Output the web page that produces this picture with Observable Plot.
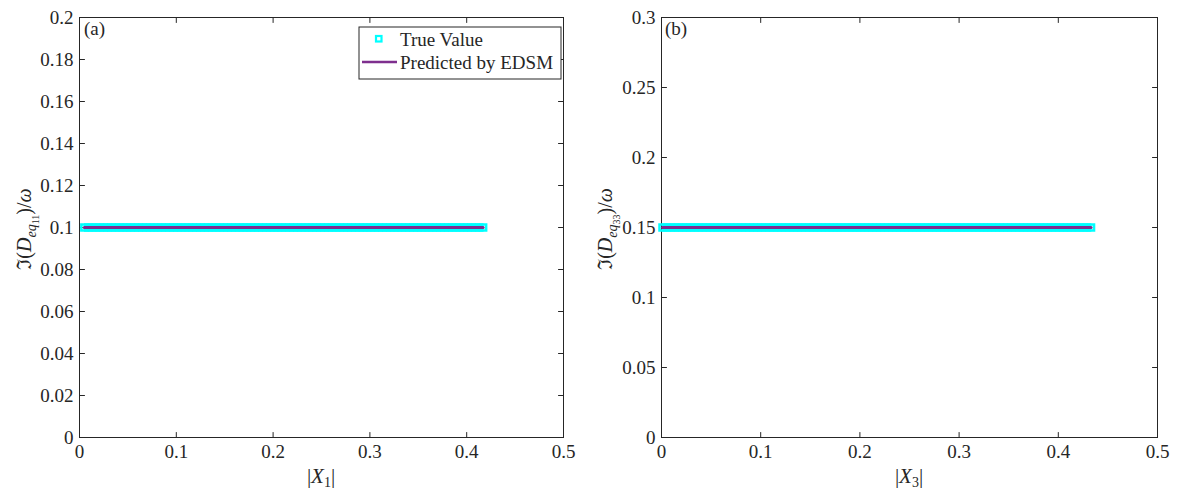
<!DOCTYPE html>
<html>
<head>
<meta charset="utf-8">
<script src="https://cdn.jsdelivr.net/npm/d3@7"></script>
<script src="https://cdn.jsdelivr.net/npm/@observablehq/plot@0.6"></script>
<style>
  html, body { margin: 0; padding: 0; background: #fff; }
  #wrap { display: flex; width: 1179px; height: 494px; overflow: hidden; }
  #wrap svg { display: block; }
  #wrap svg text, #wrap svg tspan { font-family: "Liberation Serif", "Times New Roman", serif !important; }
</style>
</head>
<body>
<div id="wrap"></div>
<script>
// Tick values
const xTicks = [0, 0.1, 0.2, 0.3, 0.4, 0.5];
const yTicksA = [0, 0.02, 0.04, 0.06, 0.08, 0.1, 0.12, 0.14, 0.16, 0.18, 0.2];
const yTicksB = [0, 0.05, 0.1, 0.15, 0.2, 0.25, 0.3];

// Panel (a): amplitude |X1| samples and the imaginary part of D_eq11 / omega
const amplitudeA = [
  0.005, 0.009, 0.013, 0.017, 0.021, 0.025, 0.029, 0.033, 0.037, 0.041,
  0.045, 0.049, 0.053, 0.057, 0.061, 0.065, 0.069, 0.073, 0.077, 0.081,
  0.085, 0.089, 0.093, 0.097, 0.101, 0.105, 0.109, 0.113, 0.117, 0.121,
  0.125, 0.129, 0.133, 0.137, 0.141, 0.145, 0.149, 0.153, 0.157, 0.161,
  0.165, 0.169, 0.173, 0.177, 0.181, 0.185, 0.189, 0.193, 0.197, 0.201,
  0.205, 0.209, 0.213, 0.217, 0.221, 0.225, 0.229, 0.233, 0.237, 0.241,
  0.245, 0.249, 0.253, 0.257, 0.261, 0.265, 0.269, 0.273, 0.277, 0.281,
  0.285, 0.289, 0.293, 0.297, 0.301, 0.305, 0.309, 0.313, 0.317, 0.321,
  0.325, 0.329, 0.333, 0.337, 0.341, 0.345, 0.349, 0.353, 0.357, 0.361,
  0.365, 0.369, 0.373, 0.377, 0.381, 0.385, 0.389, 0.393, 0.397, 0.401,
  0.405, 0.409, 0.413, 0.417
];
const trueValueA = 0.1;
const predictedA = 0.1;

// Panel (b): amplitude |X3| samples and the imaginary part of D_eq33 / omega
const amplitudeB = [
  0.001, 0.005, 0.009, 0.013, 0.017, 0.021, 0.025, 0.029, 0.033, 0.037,
  0.041, 0.045, 0.049, 0.053, 0.057, 0.061, 0.065, 0.069, 0.073, 0.077,
  0.081, 0.085, 0.089, 0.093, 0.097, 0.101, 0.105, 0.109, 0.113, 0.117,
  0.121, 0.125, 0.129, 0.133, 0.137, 0.141, 0.145, 0.149, 0.153, 0.157,
  0.161, 0.165, 0.169, 0.173, 0.177, 0.181, 0.185, 0.189, 0.193, 0.197,
  0.201, 0.205, 0.209, 0.213, 0.217, 0.221, 0.225, 0.229, 0.233, 0.237,
  0.241, 0.245, 0.249, 0.253, 0.257, 0.261, 0.265, 0.269, 0.273, 0.277,
  0.281, 0.285, 0.289, 0.293, 0.297, 0.301, 0.305, 0.309, 0.313, 0.317,
  0.321, 0.325, 0.329, 0.333, 0.337, 0.341, 0.345, 0.349, 0.353, 0.357,
  0.361, 0.365, 0.369, 0.373, 0.377, 0.381, 0.385, 0.389, 0.393, 0.397,
  0.401, 0.405, 0.409, 0.413, 0.417, 0.421, 0.425, 0.429, 0.433
];
const trueValueB = 0.15;
const predictedB = 0.15;

const legendLabels = ["True Value", "Predicted by EDSM"];

const axisColor = "#262626";
const trueColor = "#00FFFF";
const predColor = "#7E2F8E";
const serif = '"Liberation Serif", "Times New Roman", serif';
const fmt = d3.format("~g");

// Inward-pointing tick stroke used for all four sides of the box
const tickShape = {
  draw(context, length) {
    context.moveTo(0, 0);
    context.lineTo(0, -length);
  }
};

function panel({width, marginLeft, marginRight, amplitude, trueValue, predicted, yDomain, yTicks}) {
  const trueRows = amplitude.map(x => ({x, y: trueValue}));
  const predRows = amplitude.map(x => ({x, y: predicted}));
  const tickOpts = {length: 5, anchor: "start", shape: tickShape, stroke: axisColor, strokeWidth: 1};
  return Plot.plot({
    width,
    height: 494,
    marginLeft,
    marginRight,
    marginTop: 17,
    marginBottom: 57,
    style: {fontFamily: serif, fontSize: "19px", color: axisColor, background: "#fff", overflow: "visible"},
    x: {domain: [0, 0.5]},
    y: {domain: yDomain},
    marks: [
      Plot.frame({stroke: axisColor, strokeWidth: 1}),
      Plot.axisX(xTicks, {tickSize: 0, tickPadding: 7, tickFormat: fmt, label: null, fill: axisColor, fontFamily: serif}),
      Plot.axisY(yTicks, {tickSize: 0, tickPadding: 6, tickFormat: fmt, label: null, fill: axisColor, fontFamily: serif}),
      Plot.vector(xTicks, {x: d => d, frameAnchor: "bottom", rotate: 0, ...tickOpts}),
      Plot.vector(xTicks, {x: d => d, frameAnchor: "top", rotate: 180, ...tickOpts}),
      Plot.vector(yTicks, {y: d => d, frameAnchor: "left", rotate: 90, ...tickOpts}),
      Plot.vector(yTicks, {y: d => d, frameAnchor: "right", rotate: -90, ...tickOpts}),
      Plot.dot(trueRows, {x: "x", y: "y", symbol: "square", r: 3.4, stroke: trueColor, strokeWidth: 2.5, fill: "none"}),
      Plot.line(predRows, {x: "x", y: "y", stroke: predColor, strokeWidth: 3})
    ]
  });
}

function addText(svg, {x, y, size = 19, rotate = 0, anchor = "middle", parts}) {
  const t = d3.select(svg).append("text")
    .attr("transform", `translate(${x},${y}) rotate(${rotate})`)
    .attr("text-anchor", anchor)
    .attr("font-family", serif)
    .attr("font-size", size)
    .attr("fill", axisColor);
  for (const p of parts) {
    const s = t.append("tspan").text(p.text);
    if (p.italic) s.attr("font-style", "italic");
    if (p.size) s.attr("font-size", p.size);
    if (p.dy) s.attr("dy", p.dy);
  }
  return t;
}

const wrap = document.getElementById("wrap");

// (a)
const svgA = panel({
  width: 590, marginLeft: 79, marginRight: 27,
  amplitude: amplitudeA, trueValue: trueValueA, predicted: predictedA,
  yDomain: [0, 0.2], yTicks: yTicksA
});
wrap.appendChild(svgA);

// (b)
const svgB = panel({
  width: 589, marginLeft: 71, marginRight: 22,
  amplitude: amplitudeB, trueValue: trueValueB, predicted: predictedB,
  yDomain: [0, 0.3], yTicks: yTicksB
});
wrap.appendChild(svgB);

// panel tags
addText(svgA, {x: 84, y: 35, anchor: "start", parts: [{text: "(a)"}]});
addText(svgB, {x: 75, y: 35, anchor: "start", parts: [{text: "(b)"}]});

// x-axis titles
addText(svgA, {x: 321, y: 483, size: 21, parts: [
  {text: "|"}, {text: "X", italic: true}, {text: "1", size: 14, dy: 4}, {text: "|", dy: -4}
]});
addText(svgB, {x: 319, y: 483, size: 21, parts: [
  {text: "|"}, {text: "X", italic: true}, {text: "3", size: 14, dy: 4}, {text: "|", dy: -4}
]});

// y-axis titles
function yTitle(svg, x, sub) {
  addText(svg, {x, y: 229, size: 20, rotate: -90, parts: [
    {text: "\u2111("}, {text: "D", italic: true},
    {text: "eq", italic: true, size: 14, dy: 5},
    {text: sub, size: 10, dy: 3},
    {text: ")/", dy: -8}, {text: "\u03C9", italic: true}
  ]});
}
yTitle(svgA, 31, "11");
yTitle(svgB, 22, "33");

// legend box in panel (a)
const lg = d3.select(svgA).append("g").attr("transform", "translate(359,27)")
  .attr("text-anchor", "start");
lg.append("rect").attr("width", 202).attr("height", 52)
  .attr("fill", "#fff").attr("stroke", axisColor).attr("stroke-width", 1);
lg.append("rect").attr("x", 17).attr("y", 9).attr("width", 5.5).attr("height", 5.5)
  .attr("fill", "none").attr("stroke", trueColor).attr("stroke-width", 2.2);
lg.append("line").attr("x1", 3).attr("x2", 38).attr("y1", 35).attr("y2", 35)
  .attr("stroke", predColor).attr("stroke-width", 2.5);
lg.append("text").attr("x", 41).attr("y", 19).attr("text-anchor", "start")
  .attr("font-family", serif).attr("font-size", 19)
  .attr("fill", axisColor).text(legendLabels[0]);
lg.append("text").attr("x", 41).attr("y", 42).attr("text-anchor", "start")
  .attr("font-family", serif).attr("font-size", 19)
  .attr("fill", axisColor).text(legendLabels[1]);
</script>
</body>
</html>
